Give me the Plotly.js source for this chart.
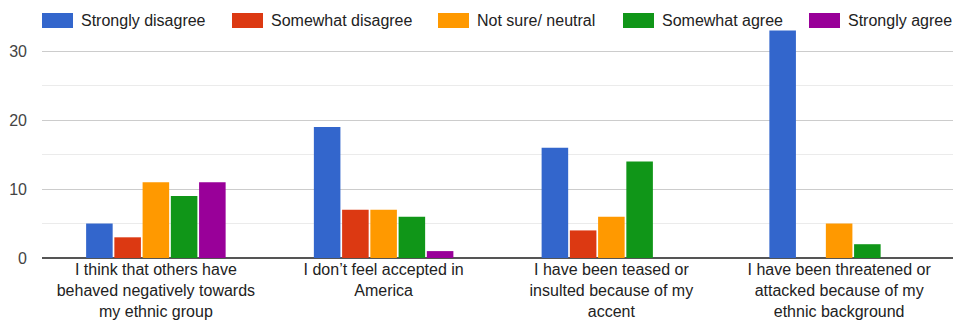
<!DOCTYPE html>
<html>
<head>
<meta charset="utf-8">
<script src="https://cdn.plot.ly/plotly-3.0.1.min.js"></script>
<style>html,body{margin:0;padding:0;background:#fff;}#chart{width:953px;height:321px;}</style>
</head>
<body>
<div id="chart"></div>
<script>
const categories = [
  "I think that others have<br>behaved negatively towards<br>my ethnic group",
  "I don’t feel accepted in<br>America",
  "I have been teased or<br>insulted because of my<br>accent",
  "I have been threatened or<br>attacked because of my<br>ethnic background"
];
const seriesNames = ["Strongly disagree", "Somewhat disagree", "Not sure/ neutral", "Somewhat agree", "Strongly agree"];
const stronglyDisagree = [5, 19, 16, 33];
const somewhatDisagree = [3, 7, 4, 0];
const notSureNeutral = [11, 7, 6, 5];
const somewhatAgree = [9, 6, 14, 2];
const stronglyAgree = [11, 1, 0, 0];
const yTicks = [0, 10, 20, 30];

const colors = ["#3366cc", "#dc3912", "#ff9900", "#109618", "#990099"];
const values = [stronglyDisagree, somewhatDisagree, notSureNeutral, somewhatAgree, stronglyAgree];

const traces = values.map((v, i) => ({
  type: "bar",
  name: seriesNames[i],
  x: categories,
  y: v,
  marker: {color: colors[i]},
  hoverinfo: "x+y+name"
}));

// custom legend (Google-style wide swatches)
const L = 42, W = 911, B = 258, H = 231;
const px = p => (p - L) / W;
const py = p => (B - p) / H;
const swatchX = [42, 232, 438, 623, 809];
const shapes = [];
const annotations = [];
seriesNames.forEach((n, i) => {
  shapes.push({type: "rect", xref: "paper", yref: "paper",
    x0: px(swatchX[i]), x1: px(swatchX[i] + 31), y0: py(28), y1: py(13),
    fillcolor: colors[i], line: {width: 0}});
  annotations.push({xref: "paper", yref: "paper", x: px(swatchX[i] + 37), y: py(20.5),
    xanchor: "left", yanchor: "middle", showarrow: false, text: n,
    font: {family: "Liberation Sans, Arial, sans-serif", size: 16, color: "#222"}});
});

const layout = {
  width: 953, height: 321,
  margin: {l: 42, r: 0, t: 27, b: 63, pad: 0},
  paper_bgcolor: "#fff", plot_bgcolor: "#fff",
  barmode: "group", bargap: 0.38, bargroupgap: 0.06,
  showlegend: false,
  font: {family: "Liberation Sans, Arial, sans-serif", size: 16, color: "#222"},
  xaxis: {
    type: "category", showgrid: false, zeroline: false, showline: false,
    ticks: "", tickfont: {size: 16, color: "#222"}, automargin: false
  },
  yaxis: {
    range: [0, 33.5], tickvals: yTicks, ticktext: yTicks.map(String),
    showgrid: true, gridcolor: "#cccccc", gridwidth: 1,
    minor: {tickvals: [5, 15, 25], showgrid: true, gridcolor: "#ebebeb", gridwidth: 1},
    zeroline: true, zerolinecolor: "#555", zerolinewidth: 1.5,
    ticks: "", ticklabelstandoff: 14, tickfont: {size: 16, color: "#444"},
    fixedrange: true, automargin: false
  },
  shapes: shapes,
  annotations: annotations
};

Plotly.newPlot("chart", traces, layout, {displayModeBar: false, staticPlot: true});
</script>
</body>
</html>
